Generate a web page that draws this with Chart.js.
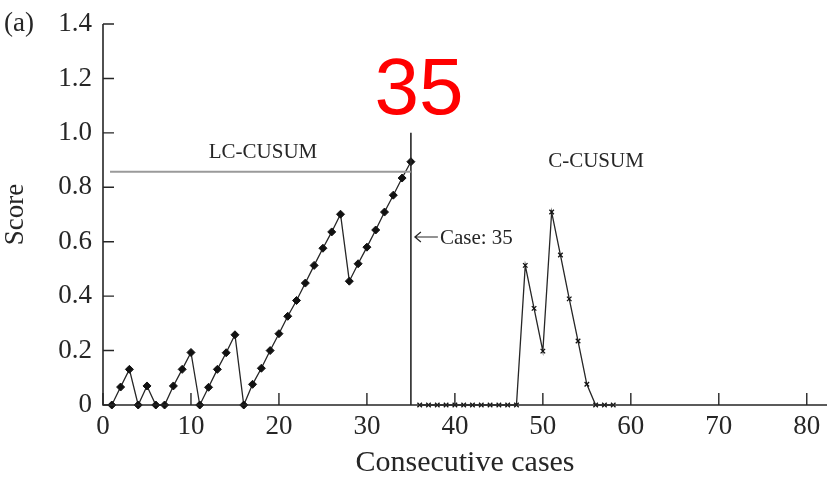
<!DOCTYPE html>
<html>
<head>
<meta charset="utf-8">
<script src="https://cdn.jsdelivr.net/npm/chart.js@4/dist/chart.umd.min.js"></script>
<style>
  html, body { margin: 0; padding: 0; background: #fff; }
  #wrap { width: 827px; height: 481px; position: relative; }
</style>
</head>
<body>
<div id="wrap"><canvas id="cusumChart"></canvas></div>
<script>
// LC-CUSUM phase (cases 1-35)
const lcCases = [1, 2, 3, 4, 5, 6, 7, 8, 9, 10, 11, 12, 13, 14, 15, 16, 17, 18,
  19, 20, 21, 22, 23, 24, 25, 26, 27, 28, 29, 30, 31, 32, 33, 34, 35]
const lcScores = [0, 0.066, 0.131, 0, 0.07, 0, 0, 0.07, 0.131, 0.193, 0, 0.065,
  0.131, 0.192, 0.258, 0, 0.076, 0.135, 0.2, 0.262, 0.326, 0.384, 0.448, 0.513,
  0.576, 0.636, 0.701, 0.455, 0.519, 0.58, 0.643, 0.709, 0.771, 0.834, 0.894]

// C-CUSUM phase (cases 36-58)
const cCases = [36, 37, 38, 39, 40, 41, 42, 43, 44, 45, 46, 47, 48, 49, 50, 51,
  52, 53, 54, 55, 56, 57, 58]
const cScores = [0, 0, 0, 0, 0, 0, 0, 0, 0, 0, 0, 0, 0.513, 0.355, 0.198, 0.709,
  0.551, 0.39, 0.235, 0.076, 0, 0, 0]

// control limit and signal
const limitCases = [0.8, 35]
const limitScore = 0.857
const signalCase = 35
const signalTop = 1.0

const xTickValues = [0, 10, 20, 30, 40, 50, 60, 70, 80]
const yTickValues = [0, 0.2, 0.4, 0.6, 0.8, 1.0, 1.2, 1.4]

const serif = '"Liberation Serif", "DejaVu Serif", serif'
const ink = '#262626'

const toPoints = (xs, ys) => xs.map((x, i) => ({ x: x, y: ys[i] }))

// axis lines, inward tick marks and annotations
const decorPlugin = {
  id: 'decor',
  afterDraw(chart) {
    const { ctx, chartArea, scales } = chart
    const xs = scales.x
    const ys = scales.y
    ctx.save()
    ctx.strokeStyle = ink
    ctx.lineWidth = 1.6
    ctx.beginPath()
    ctx.moveTo(chartArea.left, chartArea.top)
    ctx.lineTo(chartArea.left, chartArea.bottom)
    ctx.lineTo(chartArea.right, chartArea.bottom)
    ctx.stroke()

    ctx.lineWidth = 1.4
    ctx.beginPath()
    yTickValues.forEach((v) => {
      const y = ys.getPixelForValue(v)
      ctx.moveTo(chartArea.left, y)
      ctx.lineTo(chartArea.left + 11, y)
    })
    xTickValues.forEach((v) => {
      const x = xs.getPixelForValue(v)
      ctx.moveTo(x, chartArea.bottom)
      ctx.lineTo(x, chartArea.bottom - 12)
    })
    ctx.stroke()

    ctx.fillStyle = ink
    ctx.textBaseline = 'middle'
    ctx.textAlign = 'left'
    ctx.font = '27px ' + serif
    ctx.fillText('(a)', 4, 24)

    ctx.textAlign = 'center'
    ctx.font = '21px ' + serif
    ctx.fillText('LC-CUSUM', 263, 152)
    ctx.fillText('C-CUSUM', 596, 161)

    // "<- Case: 35" pointer
    const sx = xs.getPixelForValue(signalCase)
    const ay = 237
    ctx.lineWidth = 1.2
    ctx.beginPath()
    ctx.moveTo(sx + 4, ay)
    ctx.lineTo(sx + 27, ay)
    ctx.moveTo(sx + 10, ay - 5)
    ctx.lineTo(sx + 4, ay)
    ctx.lineTo(sx + 10, ay + 5)
    ctx.stroke()
    ctx.textAlign = 'left'
    ctx.font = '21px ' + serif
    ctx.fillText('Case: 35', sx + 29, ay + 1)

    ctx.textAlign = 'center'
    ctx.fillStyle = '#ff0000'
    ctx.font = '80px "Liberation Sans", Arial, sans-serif'
    ctx.fillText('35', 419, 92)
    ctx.restore()
  }
}

const ctx = document.getElementById('cusumChart').getContext('2d')
new Chart(ctx, {
  type: 'line',
  data: {
    datasets: [
      {
        label: 'Control limit',
        data: toPoints(limitCases, [limitScore, limitScore]),
        borderColor: '#9a9a9a',
        borderWidth: 2,
        pointRadius: 0
      },
      {
        label: 'Signal',
        data: toPoints([signalCase, signalCase], [0, signalTop]),
        borderColor: ink,
        borderWidth: 1.6,
        pointRadius: 0
      },
      {
        label: 'LC-CUSUM',
        data: toPoints(lcCases, lcScores),
        borderColor: ink,
        borderWidth: 1.3,
        pointStyle: 'rectRot',
        pointRadius: 4,
        pointBackgroundColor: '#111',
        pointBorderColor: '#111',
        pointBorderWidth: 1
      },
      {
        label: 'C-CUSUM',
        data: toPoints(cCases, cScores),
        borderColor: ink,
        borderWidth: 1.3,
        pointStyle: 'crossRot',
        pointRadius: 3.2,
        pointBorderColor: '#111',
        pointBorderWidth: 1.3
      }
    ]
  },
  options: {
    responsive: true,
    maintainAspectRatio: false,
    animation: false,
    clip: false,
    layout: {
      autoPadding: false,
      padding: { top: 24, right: 0, left: 0, bottom: 0 }
    },
    plugins: {
      legend: { display: false },
      tooltip: { enabled: false }
    },
    scales: {
      x: {
        type: 'linear',
        min: 0,
        max: 82.3,
        afterBuildTicks: (scale) => {
          scale.ticks = xTickValues.map((v) => ({ value: v }))
        },
        afterFit: (scale) => {
          scale.height = 76
          scale.paddingLeft = 0
          scale.paddingRight = 0
        },
        grid: { display: false, drawTicks: false },
        border: { display: false },
        ticks: {
          padding: 6,
          maxRotation: 0,
          color: ink,
          font: { family: serif, size: 27 }
        },
        title: {
          display: true,
          text: 'Consecutive cases',
          color: ink,
          font: { family: serif, size: 30 },
          padding: { top: 0, bottom: 0 }
        }
      },
      y: {
        type: 'linear',
        min: 0,
        max: 1.4,
        afterBuildTicks: (scale) => {
          scale.ticks = yTickValues.map((v) => ({ value: v }))
        },
        afterFit: (scale) => {
          scale.width = 103
          scale.paddingTop = 0
          scale.paddingBottom = 0
        },
        grid: { display: false, drawTicks: false },
        border: { display: false },
        ticks: {
          padding: 11,
          color: ink,
          font: { family: serif, size: 27 },
          callback: (v) => (v === 0 ? '0' : v.toFixed(1))
        },
        title: {
          display: true,
          text: 'Score',
          color: ink,
          font: { family: serif, size: 27 },
          padding: 0
        }
      }
    }
  },
  plugins: [decorPlugin]
})
</script>
</body>
</html>
